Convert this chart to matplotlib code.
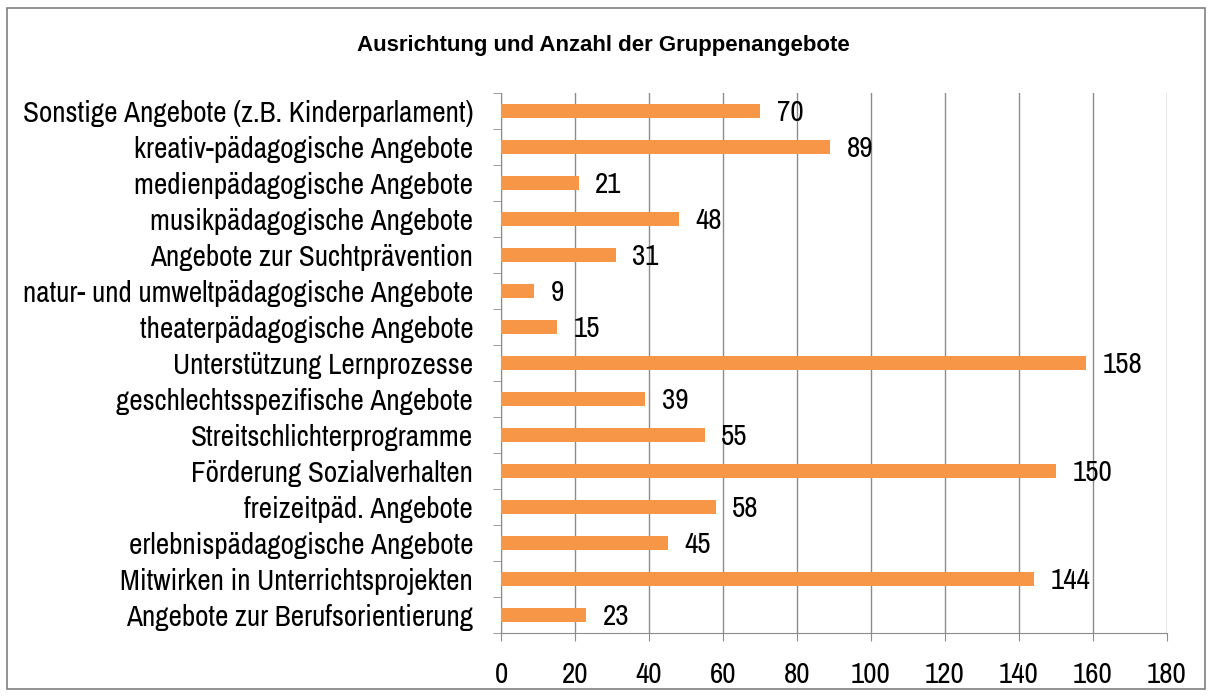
import numpy as np
import matplotlib
matplotlib.use("Agg")
import matplotlib.pyplot as plt
from matplotlib import font_manager
from matplotlib.patches import Rectangle

# schmale Schrift (wie Arial Narrow) nehmen, falls vorhanden
narrow = sorted({f.name for f in font_manager.fontManager.ttflist
                 if "Narrow" in f.name or "Condensed" in f.name
                 or str(f.stretch) in ("condensed", "semi-condensed")})
plt.rcParams["font.family"] = narrow[:1] + ["Liberation Sans", "DejaVu Sans"]
FS = 21 if narrow else 17

# Kategorien von unten nach oben
categories = ["Angebote zur Berufsorientierung", "Mitwirken in Unterrichtsprojekten",
              "erlebnispädagogische Angebote", "freizeitpäd. Angebote",
              "Förderung Sozialverhalten", "Streitschlichterprogramme",
              "geschlechtsspezifische Angebote", "Unterstützung Lernprozesse",
              "theaterpädagogische Angebote", "natur- und umweltpädagogische Angebote",
              "Angebote zur Suchtprävention", "musikpädagogische Angebote",
              "medienpädagogische Angebote", "kreativ-pädagogische Angebote",
              "Sonstige Angebote (z.B. Kinderparlament)"]
values = [23, 144, 45, 58, 150, 55, 39, 158, 15, 9, 31, 48, 21, 89, 70]
xticks = list(range(0, 181, 20))
title = "Ausrichtung und Anzahl der Gruppenangebote"

BAR = "#F79646"; GRID = "#8c8c8c"

fig = plt.figure(figsize=(12.13, 6.97), dpi=100)
ax = fig.add_axes([501 / 1213, 1 - 633 / 697, (1167 - 501) / 1213, (633 - 93) / 697])

y = np.arange(len(categories))
ax.barh(y, values, height=0.4, color=BAR, zorder=3)
for i, v in enumerate(values):
    ax.annotate(str(v), (v, i), xytext=(12, -1), textcoords="offset points",
                va="center", ha="left", fontsize=FS, zorder=4)

ax.set_xlim(0, 180); ax.set_ylim(-0.5, len(categories) - 0.5)
ax.set_xticks(xticks)
ax.set_xticklabels([str(t) for t in xticks], fontsize=FS)
ax.set_yticks(y)
ax.set_yticklabels(categories, fontsize=FS)
ax.tick_params(axis="y", length=0, pad=20)
ax.set_yticks(np.arange(-0.5, len(categories), 1), minor=True)
ax.tick_params(axis="y", which="minor", length=6, color=GRID, direction="out")
ax.tick_params(axis="x", length=6, color=GRID, direction="out", pad=14)
ax.grid(axis="x", color=GRID, lw=1, zorder=0)
for s in ["top", "right"]:
    ax.spines[s].set_visible(False)
for s in ["left", "bottom"]:
    ax.spines[s].set_color(GRID)

fig.text(603 / 1213, 1 - 45 / 697, title, ha="center", va="center",
         fontsize=16, fontweight="bold", family=["Liberation Sans", "DejaVu Sans"])
fig.patches.append(Rectangle((7 / 1213, 8 / 697), 1198 / 1213, 681 / 697,
                             transform=fig.transFigure, fill=False,
                             edgecolor="#7f7f7f", lw=1.2))
fig.savefig("out.png", dpi=100)
